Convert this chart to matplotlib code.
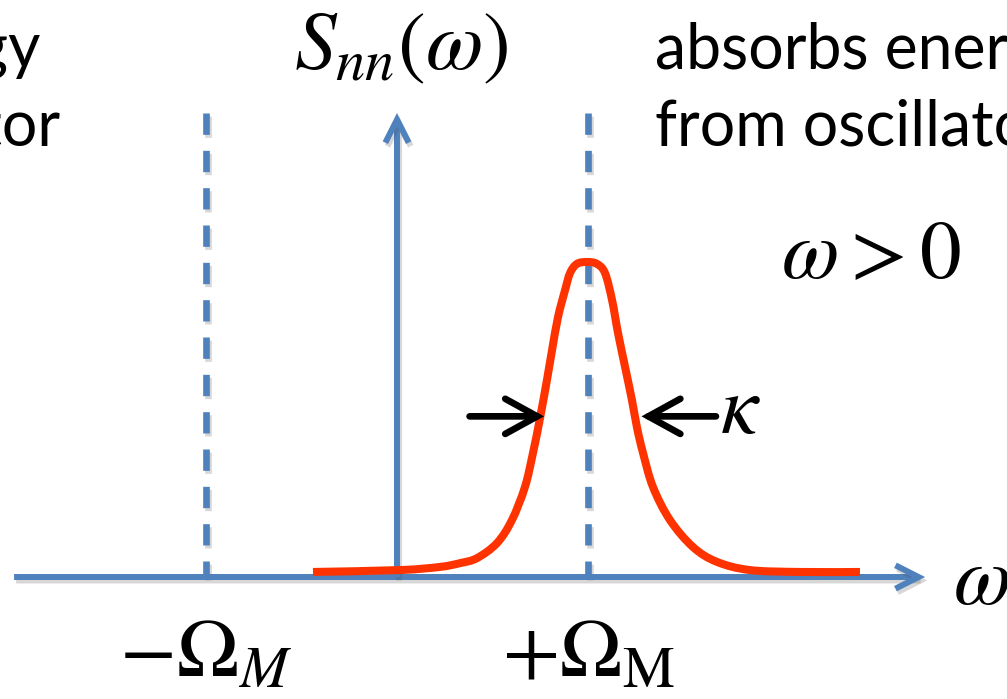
import numpy as np
import matplotlib
matplotlib.use("Agg")
import matplotlib.pyplot as plt
import matplotlib.patheffects as pe
from matplotlib.patches import FancyArrowPatch, PathPatch
from matplotlib.path import Path

# frequency in units of the mechanical frequency Omega_M, spectrum scaled to its peak
omega_m = 1.0
spec_w = [-0.440, 0.016, 0.225, 0.330, 0.419, 0.524, 0.602, 0.670, 0.712, 0.749,
          0.785, 0.812, 0.843, 0.880, 0.906, 0.942, 0.995, 1.047, 1.089, 1.126,
          1.157, 1.194, 1.230, 1.257, 1.288, 1.340, 1.429, 1.550, 1.675, 1.848,
          2.110, 2.424]
spec_s = [0.016, 0.022, 0.032, 0.044, 0.060, 0.108, 0.181, 0.286, 0.394, 0.505,
          0.625, 0.721, 0.825, 0.911, 0.965, 0.994, 1.000, 0.994, 0.965, 0.879,
          0.775, 0.667, 0.562, 0.473, 0.394, 0.286, 0.181, 0.095, 0.048, 0.022,
          0.016, 0.016]
# half-maximum points of the cavity line (width kappa)
kappa_lo, kappa_hi = 0.75, 1.25

left_lines = ["energy", "oscillator"]
right_lines = ["absorbs energy", "from oscillator"]

blue = "#4F81BD"
red = "#FF3300"

plt.rcParams["mathtext.fontset"] = "stix"

fig = plt.figure(figsize=(10.07, 6.99), dpi=100)
ax = fig.add_axes([0, 0, 1, 1])
# 191 px per unit of omega, 315 px per unit of S
ax.set_xlim(-397 / 191, 610 / 191)
ax.set_ylim(-122 / 315, 577 / 315)
ax.axis("off")

shadow = [pe.SimpleLineShadow(offset=(1.5, -2.5), alpha=0.22, shadow_color="0.3"),
          pe.Normal()]

# dashed markers at -Omega_M and +Omega_M
for w0 in (-omega_m, omega_m):
    ax.plot([w0, w0], [1.473, 0], color=blue, lw=4.8, dashes=(3.2, 2.4),
            dash_capstyle="butt", path_effects=shadow, zorder=2)

# axes with open arrow heads
def axis_arrow(p0, p1):
    a = FancyArrowPatch(p0, p1, arrowstyle="->,head_length=0.83,head_width=0.42",
                        mutation_scale=20, color=blue, lw=4.3, zorder=3,
                        shrinkA=0, shrinkB=0, capstyle="butt", joinstyle="miter")
    a.set_path_effects(shadow)
    ax.add_patch(a)

axis_arrow((-2.005, 0), (2.765, 0))
axis_arrow((0, 0), (0, 1.473))

# cavity spectrum centred at +Omega_M, drawn as a smooth Bezier through the points
pts = np.column_stack([spec_w, spec_s])
verts, codes = [pts[0]], [Path.MOVETO]
for i in range(len(pts) - 1):
    p0 = pts[max(i - 1, 0)]
    p1, p2 = pts[i], pts[i + 1]
    p3 = pts[min(i + 2, len(pts) - 1)]
    verts += [p1 + (p2 - p0) / 6, p2 - (p3 - p1) / 6, p2]
    codes += [Path.CURVE4] * 3
ax.add_patch(PathPatch(Path(verts, codes), fill=False, edgecolor=red, lw=5.8,
                       capstyle="butt", joinstyle="round", zorder=4))

# linewidth arrows pointing at the half-maximum points
def width_arrow(tail, head):
    ax.annotate("", xy=(head, 0.51), xytext=(tail, 0.51),
                arrowprops=dict(arrowstyle="->,head_length=1.0,head_width=0.55",
                                color="black", lw=4.8, mutation_scale=23,
                                shrinkA=0, shrinkB=0, joinstyle="miter"), zorder=5)

width_arrow(kappa_lo - 0.37, kappa_lo + 0.02)
width_arrow(kappa_hi + 0.42, kappa_hi + 0.03)

ax.text(1.69, 0.457, r"$\kappa$", fontsize=60, ha="left", va="baseline")
ax.text(0.02, 1.61, r"$S_{nn}(\omega)$", fontsize=60, ha="center", va="baseline")
ax.text(2.48, 0.95, r"$\omega > 0$", fontsize=60, ha="center", va="baseline")
ax.text(2.91, -0.085, r"$\omega$", fontsize=60, ha="left", va="baseline")
ax.text(-omega_m, -0.318, r"$-\Omega_M$", fontsize=60, ha="center", va="baseline")
ax.text(omega_m, -0.318, r"$+\Omega_\mathrm{M}$", fontsize=60, ha="center", va="baseline")

# slide text around the sketch
for i, (s, x) in enumerate(zip(left_lines, (41, 60))):
    fig.text(x / 1007, 1 - (69 + 77 * i) / 699, s, fontsize=45, family="Lato",
             ha="right", va="baseline")
for i, s in enumerate(right_lines):
    fig.text(655 / 1007, 1 - (69 + 77 * i) / 699, s, fontsize=45, family="Lato",
             ha="left", va="baseline")

fig.savefig("out.png", dpi=100)
